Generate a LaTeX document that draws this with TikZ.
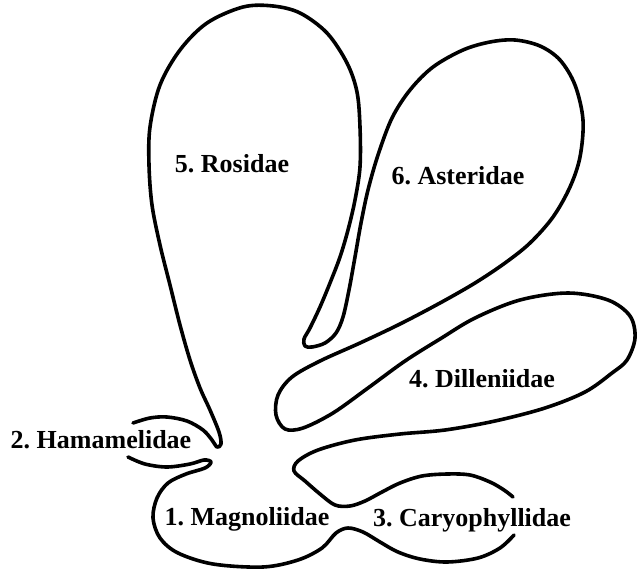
\documentclass[tikz,border=0pt]{standalone}
\usepackage{fontspec}
\setmainfont{Liberation Serif}
\frenchspacing
\tikzset{
  outline/.style={line width=3.6pt, line join=round, line cap=round},
  taxon/.style={font=\fontsize{26}{30}\selectfont\bfseries, anchor=base, inner sep=0pt}
}
\begin{document}
\begin{tikzpicture}[x=1pt, y=-1pt]
\useasboundingbox (0,0) rectangle (638,571);
% Outer curve: Hamamelidae top, Rosidae, Asteridae, Dilleniidae, Caryophyllidae top
\draw[outline] plot[smooth, tension=0.55] coordinates {
  (133,423) (150,418) (167,417) (187,421) (203,430) (212,440) (217,447) (221,444)
  (219,432) (210,410) (200,388) (190,360) (180,325) (170,285) (160,245) (152,205)
  (149,165) (150,127) (160,85) (180,50) (207,23) (243,7) (273,6) (300,13) (327,33)
  (347,63) (357,92) (360,127) (360,167) (355,200) (348,230) (340,257) (330,283)
  (320,307) (310,328) (304,339) (305,346) (312,347) (325,343) (336,333) (343,317)
  (349,290) (355,257) (361,223) (368,190) (378,155) (392,118) (410,90) (433,67)
  (463,50) (490,42) (515,40) (540,46) (560,60) (575,85) (583,120) (580,157)
  (570,187) (553,217) (530,243) (505,263) (475,283) (440,303) (400,324) (360,343)
  (320,361) (292,377) (278,395) (276,415) (285,429) (303,428) (333,413) (368,388)
  (405,361) (440,339) (475,318) (520,300) (568,293) (608,300) (630,316) (635,338)
  (627,360) (612,373) (585,392) (545,408) (495,421) (445,430) (400,434) (355,440)
  (318,450) (298,461) (294,471) (305,481) (320,494) (335,505) (350,506) (365,501)
  (382,492) (400,483) (422,476) (447,474) (470,475) (490,482) (504,490) (513,497)
};
% Inner curve: Hamamelidae bottom, Magnoliidae, Caryophyllidae bottom
\draw[outline] plot[smooth, tension=0.55] coordinates {
  (128,457) (145,464) (167,467) (190,464) (204,460) (211,462) (205,468) (186,474)
  (168,483) (157,498) (153,518) (160,538) (178,553) (213,564) (263,567) (298,560)
  (322,548) (336,533) (348,528) (363,532) (380,542) (398,552) (420,559) (447,562)
  (478,558) (500,548) (514,535)
};
\node[taxon] (ros) at (232,172) {5. Rosidae};
\node[taxon] (ast) at (458,184) {6. Asteridae};
\node[taxon] (dil) at (482,387) {4. Dilleniidae};
\node[taxon] (ham) at (101,448) {2. Hamamelidae};
\node[taxon] (mag) at (247,525) {1. Magnoliidae};
\node[taxon] (car) at (472,526) {3. Caryophyllidae};
\end{tikzpicture}
\end{document}
